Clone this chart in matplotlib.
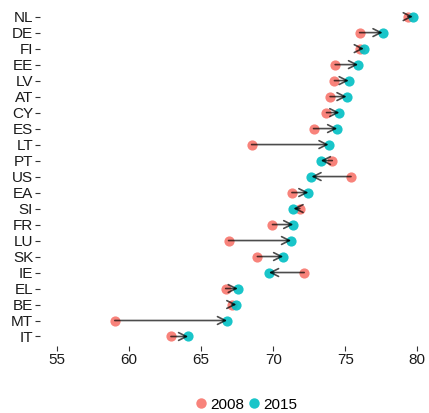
import matplotlib
matplotlib.use("Agg")
import matplotlib.pyplot as plt
from matplotlib.lines import Line2D

plt.rcParams['font.family'] = ['Liberation Sans', 'DejaVu Sans']

countries = ["NL", "DE", "FI", "EE", "LV", "AT", "CY", "ES", "LT", "PT", "US",
             "EA", "SI", "FR", "LU", "SK", "IE", "EL", "BE", "MT", "IT"]
v2008 = [79.35, 76.0, 76.0, 74.3, 74.25, 73.95, 73.7, 72.8, 68.5, 74.1, 75.4,
         71.3, 71.85, 69.95, 66.9, 68.9, 72.15, 66.7, 67.15, 59.0, 62.9]
v2015 = [79.7, 77.6, 76.3, 75.9, 75.25, 75.1, 74.6, 74.45, 73.85, 73.3, 72.65,
         72.45, 71.4, 71.4, 71.25, 70.7, 69.7, 67.55, 67.45, 66.8, 64.1]
series_labels = ["2008", "2015"]
xticks = [55, 60, 65, 70, 75, 80]

red = "#F8766D"
teal = "#00BFC4"

fig = plt.figure(figsize=(4.29, 4.13), dpi=100)
ax = fig.add_axes([0.093, 0.162, 0.893, 0.821])

n = len(countries)
ypos = [n - 1 - i for i in range(n)]

ax.scatter(v2008, ypos, s=54, color=red, alpha=0.9, linewidths=0, zorder=2)
ax.scatter(v2015, ypos, s=54, color=teal, alpha=0.9, linewidths=0, zorder=2)

for a, b, y in zip(v2008, v2015, ypos):
    ax.annotate("", xy=(b, y), xytext=(a, y),
                arrowprops=dict(arrowstyle="->", color="black", alpha=0.7,
                                lw=1.2, shrinkA=0, shrinkB=0, mutation_scale=14),
                zorder=3)

ax.set_xlim(53.8, 80.4)
ax.set_ylim(-0.6, n - 1 + 0.6)
ax.set_xticks(xticks)
ax.set_xticklabels([str(t) for t in xticks])
ax.set_yticks(ypos)
ax.set_yticklabels(countries)
for s in ax.spines.values():
    s.set_visible(False)
ax.tick_params(axis='both', length=3.3, width=0.8, color='#333333',
               labelsize=11, labelcolor='#1a1a1a', pad=1.5)

handles = [Line2D([], [], marker='o', linestyle='None', markersize=7.5,
                  markerfacecolor=c, markeredgewidth=0, alpha=0.9)
           for c in (red, teal)]
fig.legend(handles, series_labels, loc='lower center', ncol=2, frameon=False,
           bbox_to_anchor=(0.57, -0.03), fontsize=11, handletextpad=0.0,
           columnspacing=0.1, handlelength=1.2)

fig.savefig("out.png", dpi=100, facecolor='white')
